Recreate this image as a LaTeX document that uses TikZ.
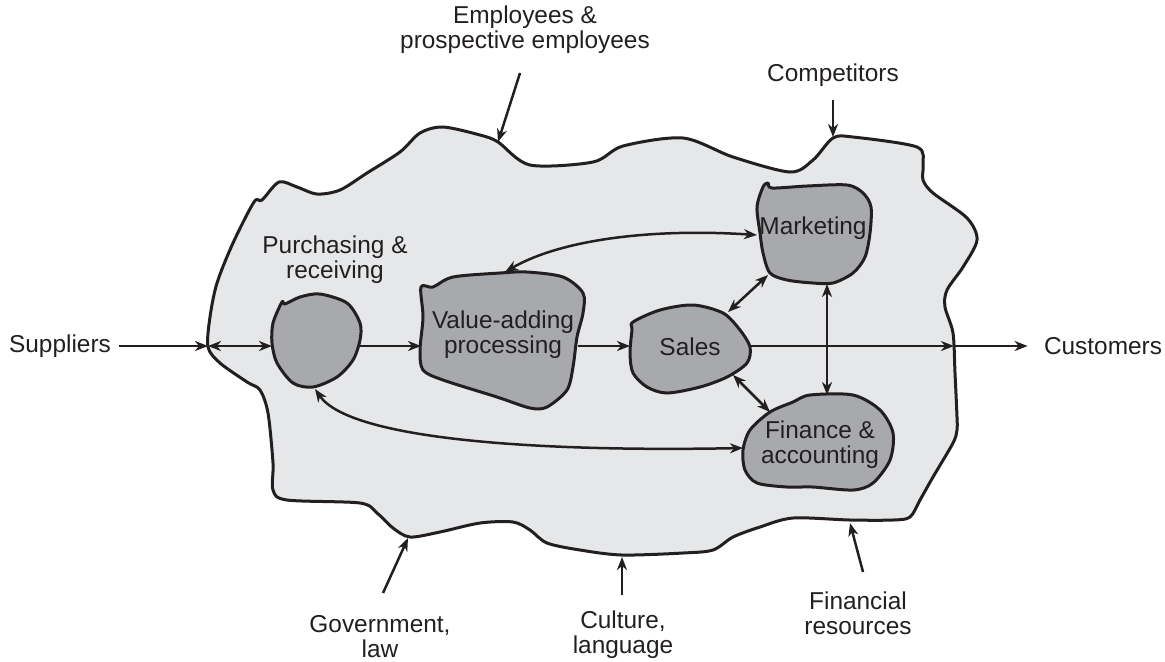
\documentclass[tikz,border=0pt]{standalone}
\usepackage{fontspec}
\setmainfont{Liberation Sans}
\usetikzlibrary{arrows.meta}
\definecolor{ink}{HTML}{231F20}
\definecolor{envgray}{HTML}{E6E7E8}
\definecolor{unitgray}{HTML}{A7A9AC}

\begin{document}
\begin{tikzpicture}[x=0.5pt,y=-0.5pt,>={Stealth[length=6.5pt,width=5pt,inset=2pt]},
        env/.style={draw=ink,fill=envgray,line width=1.5pt,line join=round},
        unit/.style={draw=ink,fill=unitgray,line width=1.5pt,line join=round},
        flow/.style={draw=ink,line width=1.25pt},
        lbl/.style={text=ink,align=center,inner sep=0pt,font=\fontsize{12.2}{12.5}\selectfont}]
        \useasboundingbox(0,0)rectangle(1165,661);
        % the environment
        \draw[env]plot[smooth cycle,tension=0.5]coordinates{(254,202)(262,200)(279,182)(297,187)(317,194)(340,190)(367,173)(400,152)(420,133)(443,127)(480,135)(498,142)(530,165)(593,162)(623,146)(683,138)(733,157)(790,172)(813,160)(833,138)(853,137)(917,147)(923,165)(923,180)(933,193)(967,218)(977,240)(963,267)(947,290)(945,307)(953,333)(955,373)(957,417)(957,430)(953,443)(933,477)(920,500)(910,517)(893,520)(850,520)(793,518)(760,527)(733,537)(713,550)(683,553)(622,555)(580,550)(547,543)(530,530)(513,522)(480,523)(440,532)(410,537)(393,528)(377,513)(360,503)(287,500)(273,490)(273,463)(268,413)(260,390)(247,382)(220,363)(208,347)(210,317)(217,283)(233,243)};
        % the units
        \draw[unit]plot[smooth cycle,tension=0.5]coordinates{(272,343)(273,323)(282,302)(285,304)(300,297)(320,294)(347,303)(360,323)(360,340)(353,360)(337,377)(313,387)(293,383)(277,363)};
        \draw[unit]plot[smooth cycle,tension=0.5]coordinates{(421,287)(433,287)(453,277)(500,273)(527,272)(563,277)(583,293)(583,313)(577,337)(573,367)(567,390)(547,407)(530,408)(497,397)(443,380)(423,370)(420,350)(423,317)};
        \draw[unit]plot[smooth cycle,tension=0.5]coordinates{(633,322)(660,310)(693,305)(723,313)(740,330)(750,347)(747,363)(727,377)(700,387)(667,393)(647,387)(633,373)(630,353)(632,330)};
        \draw[unit]plot[smooth cycle,tension=0.5]coordinates{(763,187)(768,183)(772,188)(807,186)(847,185)(863,193)(871,207)(870,233)(865,257)(853,273)(833,283)(813,283)(787,280)(770,273)(763,253)(760,233)(757,207)};
        \draw[unit]plot[smooth cycle,tension=0.5]coordinates{(743,450)(750,430)(770,412)(793,402)(810,395)(853,395)(880,410)(893,433)(890,460)(873,483)(853,490)(813,487)(787,487)(757,483)(745,470)};
        % labels
        \node[lbl](pur)at(335,260){Purchasing \&\\receiving};
        \node[lbl](val)at(503,335){Value-adding\\processing};
        \node[lbl](sal)at(690,347){Sales};
        \node[lbl](mkt)at(813,228){Marketing};
        \node[lbl](fin)at(820,445){Finance \&\\accounting};
        \node[lbl](sup)at(60,346){Suppliers};
        \node[lbl](cus)at(1103,346){Customers};
        \node[lbl](emp)at(525,30){Employees \&\\prospective employees};
        \node[lbl](com)at(833,75){Competitors};
        \node[lbl](gov)at(380,637){Government,\\law};
        \node[lbl](cul)at(623,635){Culture,\\language};
        \node[lbl](res)at(858,613){Financial\\resources};
        % connection points
        \coordinate(edgeL)at(208,346);\coordinate(edgeR)at(954,346);
        \coordinate(purL)at(272,346);\coordinate(purR)at(360,346);\coordinate(purB)at(315,389);
        \coordinate(valL)at(421,346);\coordinate(valR)at(578,346);\coordinate(valT)at(505,272);
        \coordinate(salL)at(630,346);\coordinate(salR)at(750,346);
        \coordinate(salNE)at(728,312);\coordinate(salSE)at(733,375);
        \coordinate(mktL)at(757,235);\coordinate(mktSW)at(768,275);\coordinate(mktB)at(827,284);
        \coordinate(finL)at(743,448);\coordinate(finNW)at(770,412);\coordinate(finT)at(827,395);
        \coordinate(empA)at(520,73);\coordinate(empB)at(498,142);
        \coordinate(comA)at(833,100);\coordinate(comB)at(833,137);
        \coordinate(govA)at(383,593);\coordinate(govB)at(408,538);
        \coordinate(culA)at(622,595);\coordinate(culB)at(622,557);
        \coordinate(resA)at(863,572);\coordinate(resB)at(850,523);
        % flows
        \draw[flow,->](sup.east)++(8,0)--(edgeL);
        \draw[flow,<->](edgeL)--(purL);
        \draw[flow,->](purR)--(valL);
        \draw[flow,->](valR)--(salL);
        \draw[flow,->](salR)--(edgeR);
        \draw[flow,->](edgeR)--([xshift=-8]cus.west);
        \draw[flow,<->](valT)..controls(560,240)and(650,228)..(mktL);
        \draw[flow,<->](purB)..controls(350,440)and(540,452)..(finL);
        \draw[flow,<->](salNE)--(mktSW);
        \draw[flow,<->](salSE)--(finNW);
        \draw[flow,<->](mktB)--(finT);
        % outside forces
        \draw[flow,->](empA)--(empB);
        \draw[flow,->](comA)--(comB);
        \draw[flow,->](govA)--(govB);
        \draw[flow,->](culA)--(culB);
        \draw[flow,->](resA)--(resB);
    \end{tikzpicture}
\end{document}
